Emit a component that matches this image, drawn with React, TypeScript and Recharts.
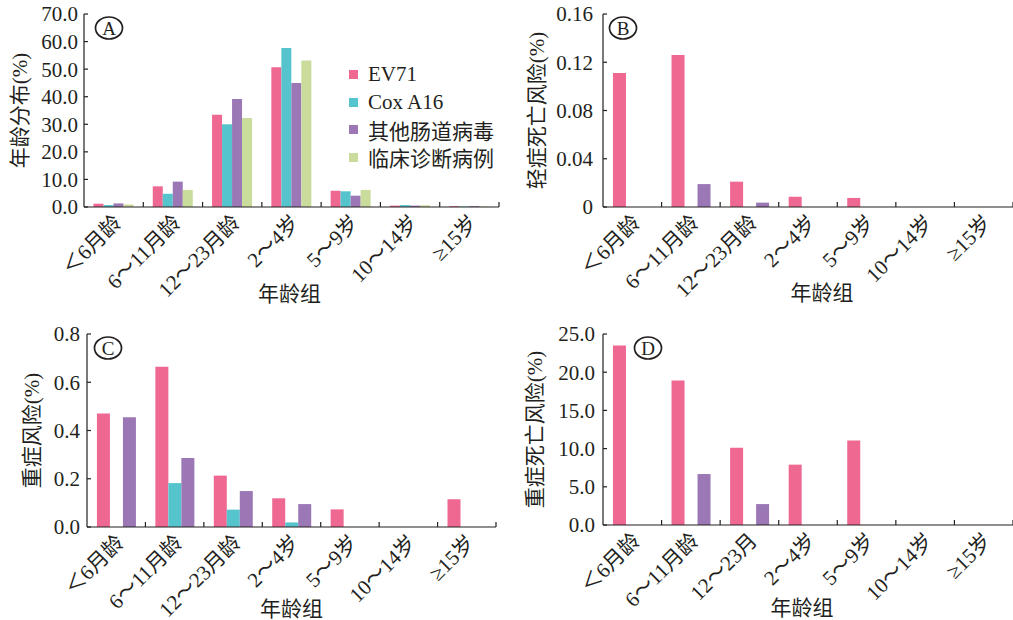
import React from "react";
import { BarChart, Bar, XAxis, YAxis } from "recharts";

const FONT = "'Liberation Serif', 'Noto Sans CJK SC', serif";
const INK = "#231f20";

const ageGroups = ["＜6月龄", "6～11月龄", "12～23月龄", "2～4岁", "5～9岁", "10～14岁", "≥15岁"];
const ageGroupsD = ["＜6月龄", "6～11月龄", "12～23月", "2～4岁", "5～9岁", "10～14岁", "≥15岁"];

const seriesNames = ["EV71", "Cox A16", "其他肠道病毒", "临床诊断病例"];
const seriesColors = ["#EE6891", "#55C4CD", "#9B78B5", "#C9DC9C"];

// A: 年龄分布(%)
const distEV71 = [1.2, 7.5, 33.5, 50.7, 5.9, 0.5, 0.3];
const distCox = [0.7, 4.8, 30.0, 57.7, 5.7, 0.7, 0.2];
const distOther = [1.3, 9.2, 39.2, 45.0, 4.1, 0.5, 0.3];
const distClinical = [0.9, 6.2, 32.3, 53.1, 6.2, 0.6, 0.2];

// B: 轻症死亡风险(%)
const mildDeathEV71 = [0.111, 0.126, 0.021, 0.0085, 0.0075, 0, 0];
const mildDeathCox = [0, 0, 0, 0, 0, 0, 0];
const mildDeathOther = [0, 0.019, 0.0036, 0, 0, 0, 0];

// C: 重症风险(%)
const severeEV71 = [0.47, 0.664, 0.213, 0.119, 0.073, 0, 0.115];
const severeCox = [0, 0.182, 0.072, 0.019, 0, 0, 0];
const severeOther = [0.455, 0.286, 0.149, 0.095, 0, 0, 0];

// D: 重症死亡风险(%)
const severeDeathEV71 = [23.5, 18.9, 10.1, 7.9, 11.05, 0, 0];
const severeDeathCox = [0, 0, 0, 0, 0, 0, 0];
const severeDeathOther = [0, 6.67, 2.74, 0, 0, 0, 0];

const ticksA = [0, 10, 20, 30, 40, 50, 60, 70];
const ticksB = [0, 0.04, 0.08, 0.12, 0.16];
const ticksC = [0, 0.2, 0.4, 0.6, 0.8];
const ticksD = [0, 5, 10, 15, 20, 25];

const toRows = (cats: string[], cols: number[][]) =>
    cats.map((name, i) => {
        const row: Record<string, string | number> = { name };
        cols.forEach((c, k) => (row[`s${k}`] = c[i]));
        return row;
    });

function AgeTick(props: any) {
    const { x, y, payload, width, visibleTicksCount } = props;
    const half = payload?.offset || (width && visibleTicksCount ? width / visibleTicksCount / 2 : 0);
    const tx = x + 9;
    const ty = y + 17;
    return (
        <g>
            <line x1={x + half} x2={x + half} y1={y} y2={y - 5} stroke={INK} strokeWidth={1.2} />
            <text
                x={tx}
                y={ty}
                transform={`rotate(-45, ${tx}, ${ty})`}
                textAnchor="end"
                fontSize={21}
                fontFamily={FONT}
                fill={INK}
            >
                {payload.value}
            </text>
        </g>
    );
}

interface PanelProps {
    left: number;
    top: number;
    width: number;
    marginTop: number;
    marginRight: number;
    yWidth: number;
    xHeight: number;
    tickGap: number;
    cats: string[];
    cols: number[][];
    ticks: number[];
    fmt: (v: number) => string;
    yLabel: string;
    yLabelX: number;
    xLabelOffset: number;
    xLabelDx: number;
    letter: string;
    letterX: number;
    letterY: number;
    catGap: string;
}

function Panel(p: PanelProps) {
    const data = toRows(p.cats, p.cols);
    const max = p.ticks[p.ticks.length - 1];
    return (
        <div style={{ position: "absolute", left: p.left, top: p.top, width: p.width, height: 310 }}>
            <BarChart
                width={p.width}
                height={310}
                data={data}
                margin={{ top: p.marginTop, right: p.marginRight, left: 0, bottom: 0 }}
                barCategoryGap={p.catGap}
                barGap={0}
            >
                <XAxis
                    dataKey="name"
                    interval={0}
                    height={p.xHeight}
                    tickSize={0}
                    tickMargin={0}
                    tickLine={false}
                    axisLine={{ stroke: INK, strokeWidth: 1.2 }}
                    tick={<AgeTick />}
                    label={{
                        value: "年龄组",
                        position: "insideBottom",
                        offset: p.xLabelOffset,
                        dx: p.xLabelDx,
                        fontSize: 21,
                        fontFamily: FONT,
                        fill: INK,
                    }}
                />
                <YAxis
                    width={p.yWidth}
                    domain={[0, max]}
                    ticks={p.ticks}
                    interval={0}
                    tickFormatter={p.fmt}
                    tickSize={-4}
                    tickMargin={p.tickGap}
                    axisLine={{ stroke: INK, strokeWidth: 1.2 }}
                    tickLine={{ stroke: INK, strokeWidth: 1.2 }}
                    tick={{ fontSize: 21, fontFamily: FONT, fill: INK }}
                    label={{
                        value: p.yLabel,
                        angle: -90,
                        position: "insideLeft",
                        offset: p.yLabelX,
                        style: { textAnchor: "middle" },
                        fontSize: 21,
                        fontFamily: FONT,
                        fill: INK,
                    }}
                />
                {p.cols.map((_, k) => (
                    <Bar
                        key={k}
                        dataKey={`s${k}`}
                        name={seriesNames[k]}
                        fill={seriesColors[k]}
                        isAnimationActive={false}
                    />
                ))}
            </BarChart>
            <svg
                width={40}
                height={30}
                style={{ position: "absolute", left: p.letterX - 20, top: p.letterY - 15, overflow: "visible" }}
            >
                <ellipse cx={20} cy={15} rx={13.5} ry={11} fill="none" stroke={INK} strokeWidth={1.7} />
                <text x={20} y={21.5} textAnchor="middle" fontSize={19} fontFamily={FONT} fill={INK}>
                    {p.letter}
                </text>
            </svg>
        </div>
    );
}

function SeriesLegend() {
    return (
        <div style={{ position: "absolute", left: 349, top: 61, fontFamily: FONT, fontSize: 21, color: INK }}>
            {seriesNames.map((name, k) => (
                <div key={name} style={{ display: "flex", alignItems: "center", height: 27.5, whiteSpace: "nowrap" }}>
                    <span style={{ width: 9, height: 9, background: seriesColors[k], marginRight: 10, display: "inline-block" }} />
                    <span>{name}</span>
                </div>
            ))}
        </div>
    );
}

const fmt1 = (v: number) => v.toFixed(1);
const fmtB = (v: number) => (v === 0 ? "0" : v.toFixed(2));

export default function App() {
    return (
        <div style={{ position: "absolute", left: 0, top: 0, width: 1013, height: 620, background: "#fff", overflow: "hidden" }}>
            <Panel
                left={0}
                top={0}
                width={507}
                marginTop={14}
                marginRight={8}
                yWidth={84}
                xHeight={103}
                tickGap={10}
                cats={ageGroups}
                cols={[distEV71, distCox, distOther, distClinical]}
                ticks={ticksA}
                fmt={fmt1}
                yLabel="年龄分布(%)"
                yLabelX={20}
                xLabelOffset={9}
                xLabelDx={-2}
                letter="A"
                letterX={109}
                letterY={28}
                catGap="16%"
            />
            <SeriesLegend />
            <Panel
                left={507}
                top={0}
                width={506}
                marginTop={14}
                marginRight={0}
                yWidth={96}
                xHeight={103}
                tickGap={14}
                cats={ageGroups}
                cols={[mildDeathEV71, mildDeathCox, mildDeathOther]}
                ticks={ticksB}
                fmt={fmtB}
                yLabel="轻症死亡风险(%)"
                yLabelX={30}
                xLabelOffset={10}
                xLabelDx={14}
                letter="B"
                letterX={116}
                letterY={28}
                catGap="17%"
            />
            <Panel
                left={0}
                top={310}
                width={507}
                marginTop={24}
                marginRight={11}
                yWidth={87}
                xHeight={93}
                tickGap={11}
                cats={ageGroups}
                cols={[severeEV71, severeCox, severeOther]}
                ticks={ticksC}
                fmt={fmt1}
                yLabel="重症风险(%)"
                yLabelX={32}
                xLabelOffset={4}
                xLabelDx={0}
                letter="C"
                letterX={108}
                letterY={38}
                catGap="17%"
            />
            <Panel
                left={507}
                top={310}
                width={506}
                marginTop={24}
                marginRight={0}
                yWidth={96}
                xHeight={95}
                tickGap={12}
                cats={ageGroupsD}
                cols={[severeDeathEV71, severeDeathCox, severeDeathOther]}
                ticks={ticksD}
                fmt={fmt1}
                yLabel="重症死亡风险(%)"
                yLabelX={28}
                xLabelOffset={5}
                xLabelDx={-6}
                letter="D"
                letterX={141}
                letterY={38}
                catGap="17%"
            />
        </div>
    );
}
